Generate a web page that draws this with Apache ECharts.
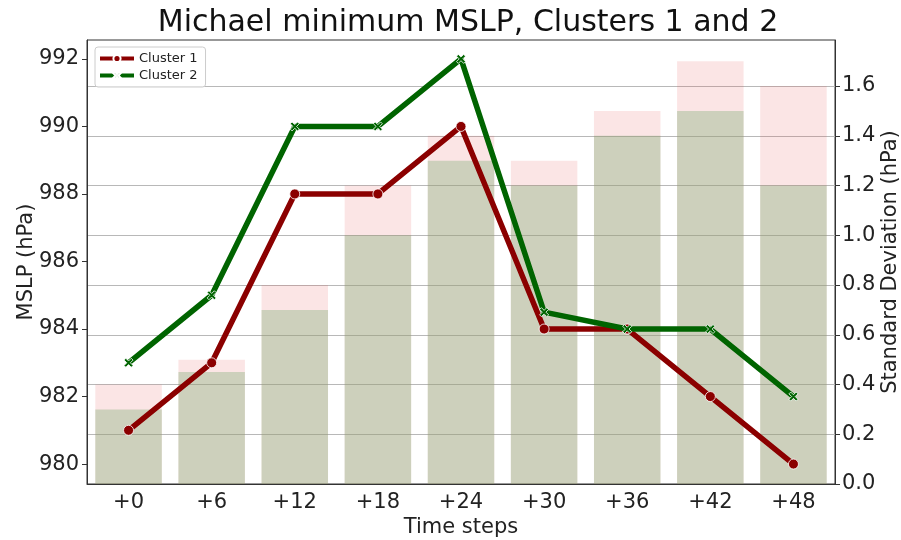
<!DOCTYPE html>
<html>
<head>
<meta charset="utf-8">
<script src="https://cdn.jsdelivr.net/npm/echarts@6/dist/echarts.min.js"></script>
<style>
  html, body { margin: 0; padding: 0; background: #fff; }
  #chart { width: 901px; height: 540px; }
</style>
</head>
<body>
<div id="chart"></div>
<script>
// 数据
const timeSteps = ['+0', '+6', '+12', '+18', '+24', '+30', '+36', '+42', '+48'];
const cluster1 = [981, 983, 988, 988, 990, 984, 984, 982, 980];
const cluster2 = [983, 985, 990, 990, 992, 984.5, 984, 984, 982];
const std1 = [0.4, 0.5, 0.8, 1.2, 1.4, 1.3, 1.5, 1.7, 1.6];
const std2 = [0.3, 0.45, 0.7, 1.0, 1.3, 1.2, 1.4, 1.5, 1.2];
const mslpTicks = [980, 982, 984, 986, 988, 990, 992];
const stdTicks = [0, 0.2, 0.4, 0.6, 0.8, 1.0, 1.2, 1.4, 1.6];

const FONT = 'DejaVu Sans';
const xMark = 'path://M2,0 L5,3 L8,0 L10,2 L7,5 L10,8 L8,10 L5,7 L2,10 L0,8 L3,5 L0,2 Z';

let chart = echarts.init(document.getElementById('chart'));
let option = {
  animation: false,
  textStyle: { fontFamily: FONT, color: '#222' },
  title: {
    text: 'Michael minimum MSLP, Clusters 1 and 2',
    left: 463,
    textAlign: 'center',
    top: 3,
    textStyle: { fontFamily: FONT, fontSize: 30, fontWeight: 'normal', color: '#111' }
  },
  legend: {
    left: 95,
    top: 47,
    orient: 'vertical',
    itemGap: 4,
    itemWidth: 34,
    itemHeight: 9,
    padding: [5, 8, 5, 3],
    borderColor: '#ccc',
    borderWidth: 1,
    borderRadius: 3,
    backgroundColor: 'rgba(255,255,255,0.8)',
    lineStyle: { width: 4 },
    textStyle: { fontFamily: FONT, fontSize: 13, color: '#222' },
    data: ['Cluster 1', 'Cluster 2']
  },
  grid: {
    left: 87, right: 66, top: 40, bottom: 56,
    containLabel: false,
    outerBoundsMode: 'none',
    show: true, borderColor: '#333', borderWidth: 1, backgroundColor: 'transparent'
  },
  xAxis: {
    type: 'category',
    data: timeSteps,
    name: 'Time steps',
    nameLocation: 'middle',
    nameGap: 33,
    nameMoveOverlap: false,
    nameTextStyle: { fontFamily: FONT, fontSize: 21, color: '#222' },
    axisLine: { lineStyle: { color: '#333' } },
    axisTick: { alignWithLabel: true, length: 5, lineStyle: { color: '#333' } },
    axisLabel: { fontFamily: FONT, fontSize: 21, color: '#222', margin: 8 },
    splitLine: { show: false }
  },
  yAxis: [
    {
      type: 'value',
      min: 979.41,
      max: 992.56,
      name: 'MSLP (hPa)',
      nameLocation: 'middle',
      nameGap: 50,
      nameRotate: 90,
      nameMoveOverlap: false,
      nameTextStyle: { fontFamily: FONT, fontSize: 21, color: '#222' },
      axisLine: { show: true, lineStyle: { color: '#333' } },
      axisTick: { show: true, length: 5, customValues: mslpTicks, lineStyle: { color: '#333' } },
      axisLabel: { fontFamily: FONT, fontSize: 21, color: '#222', margin: 8, customValues: mslpTicks },
      splitLine: { show: false }
    },
    {
      type: 'value',
      min: 0,
      max: 1.785,
      interval: 0.2,
      position: 'right',
      name: 'Standard Deviation (hPa)',
      nameLocation: 'middle',
      nameGap: 45,
      nameRotate: 90,
      nameMoveOverlap: false,
      nameTextStyle: { fontFamily: FONT, fontSize: 21, color: '#222' },
      axisLine: { show: true, lineStyle: { color: '#333' } },
      axisTick: { show: true, length: 5, customValues: stdTicks, lineStyle: { color: '#333' } },
      axisLabel: {
        fontFamily: FONT, fontSize: 21, color: '#222', margin: 7,
        customValues: stdTicks,
        formatter: v => v.toFixed(1)
      },
      splitLine: { show: true, lineStyle: { color: '#b8b8b8', width: 1.2 } }
    }
  ],
  series: [
    {
      name: 'Std 1',
      type: 'bar',
      yAxisIndex: 1,
      data: std1,
      barCategoryGap: '20%',
      itemStyle: { color: 'rgba(228,82,82,0.15)' },
      z: 1
    },
    {
      name: 'Std 2',
      type: 'bar',
      yAxisIndex: 1,
      data: std2,
      barGap: '-100%',
      barCategoryGap: '20%',
      itemStyle: { color: 'rgba(136,176,126,0.4)' },
      z: 1
    },
    {
      name: 'Cluster 1',
      type: 'line',
      yAxisIndex: 0,
      data: cluster1,
      symbol: 'circle',
      symbolSize: 10,
      lineStyle: { color: '#8b0000', width: 5.5 },
      itemStyle: { color: '#8b0000', borderColor: '#fff', borderWidth: 0.8 },
      z: 3
    },
    {
      name: 'Cluster 2',
      type: 'line',
      yAxisIndex: 0,
      data: cluster2,
      symbol: xMark,
      symbolSize: 9,
      lineStyle: { color: '#006400', width: 5.5 },
      itemStyle: { color: '#006400', borderColor: '#fff', borderWidth: 0.8 },
      z: 4
    }
  ]
};
chart.setOption(option);
</script>
</body>
</html>
